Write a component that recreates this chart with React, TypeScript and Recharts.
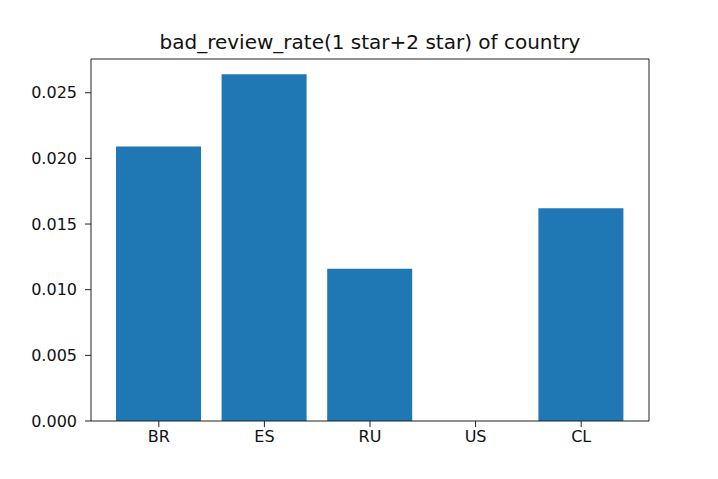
import { BarChart, Bar, XAxis, YAxis } from 'recharts'

const countries = ['BR', 'ES', 'RU', 'US', 'CL']
const badReviewRate = [0.0209, 0.0264, 0.0116, 0, 0.0162]
const yTicks = [0, 0.005, 0.01, 0.015, 0.02, 0.025]

const data = countries.map((country, i) => ({ country, rate: badReviewRate[i] }))

const axisColor = '#222'
const font = '"DejaVu Sans", sans-serif'

export default function App() {
  return (
    <div style={{ position: 'fixed', left: 0, top: 0, width: 718, height: 479, background: '#fff' }}>
      <div
        style={{
          position: 'absolute',
          left: 91,
          width: 558,
          top: 30,
          textAlign: 'center',
          fontFamily: font,
          fontSize: 20,
          color: '#111',
          lineHeight: '24px',
        }}
      >
        bad_review_rate(1 star+2 star) of country
      </div>
      <BarChart
        width={718}
        height={479}
        data={data}
        margin={{ top: 58, right: 68, bottom: 0, left: 0 }}
      >
        <XAxis
          dataKey="country"
          padding={{ left: 15, right: 15 }}
          stroke={axisColor}
          tickSize={6}
          tickMargin={4}
          tick={{ fill: '#111', fontSize: 16, fontFamily: font }}
          height={58}
        />
        <XAxis xAxisId="top" orientation="top" dataKey="country" height={1} tick={false} tickLine={false} stroke={axisColor} />
        <YAxis
          domain={[0, 0.02757]}
          ticks={yTicks}
          tickFormatter={(v: number) => v.toFixed(3)}
          stroke={axisColor}
          tickSize={6}
          tickMargin={8}
          width={91}
          tick={{ fill: '#111', fontSize: 16, fontFamily: font }}
          allowDataOverflow
        />
        <YAxis yAxisId="right" orientation="right" width={1} tick={false} tickLine={false} stroke={axisColor} />
        <Bar dataKey="rate" fill="#1f77b4" barSize={85} isAnimationActive={false} />
      </BarChart>
    </div>
  )
}
